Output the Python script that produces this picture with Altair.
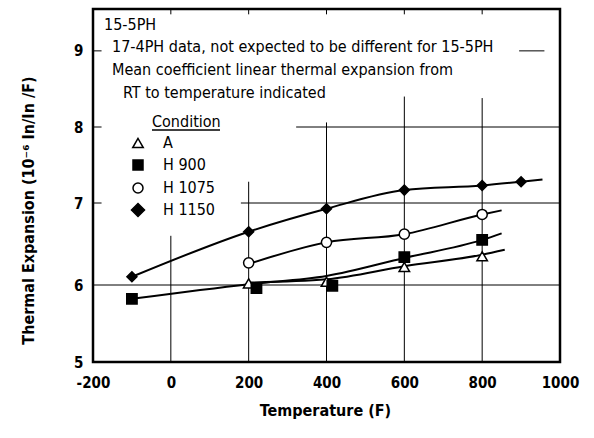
import altair as alt
import pandas as pd

# ---------------- data ----------------
series = ["A", "H 900", "H 1075", "H 1150"]
shapes = ["triangle-up", "square", "circle", "diamond"]
fills = ["white", "black", "white", "black"]
sizes = [110, 100, 100, 170]

# measured points (markers)
a_temp = [200, 400, 600, 800]
a_val = [6.02, 6.04, 6.22, 6.35]
h900_temp = [-100, 220, 415, 600, 800]
h900_val = [5.82, 5.96, 5.99, 6.34, 6.55]
h1075_temp = [200, 400, 600, 800]
h1075_val = [6.27, 6.52, 6.62, 6.86]
h1150_temp = [-100, 200, 400, 600, 800, 900]
h1150_val = [6.10, 6.65, 6.93, 7.17, 7.23, 7.28]

# fitted curves as drawn in the figure
a_curve_temp = [200, 400, 600, 800, 858]
a_curve_val = [6.03, 6.07, 6.23, 6.37, 6.43]
h900_curve_temp = [-100, 200, 400, 600, 800, 850]
h900_curve_val = [5.82, 6.01, 6.11, 6.33, 6.55, 6.63]
h1075_curve_temp = [195, 400, 600, 800, 850]
h1075_curve_val = [6.25, 6.52, 6.62, 6.86, 6.91]
h1150_curve_temp = [-100, 200, 400, 600, 800, 900, 955]
h1150_curve_val = [6.10, 6.65, 6.93, 7.17, 7.23, 7.28, 7.31]

x_ticks = [-200, 0, 200, 400, 600, 800, 1000]
y_ticks = [5, 6, 7, 8, 9]

# partial grid lines of the original figure
vgrid_x = [0, 200, 400, 600, 800]
vgrid_top = [6.60, 7.28, 8.06, 8.40, 8.38]
hgrid_y = [6, 7, 8, 9]
hgrid_start = [-200, 180, 322, 895]
hgrid_end = [1000, 1000, 1000, 960]

notes = [
    "15-5PH",
    "17-4PH data, not expected to be different for 15-5PH",
    "Mean coefficient linear thermal expansion from",
    "RT to temperature indicated",
]
legend_title = "Condition"
x_title = "Temperature (F)"
y_title = "Thermal Expansion (10\u207b\u2076 In/In /F)"

FONT = "Liberation Sans Narrow, DejaVu Sans Condensed, Arial Narrow, sans-serif"

# ---------------- tables ----------------
temps = [a_temp, h900_temp, h1075_temp, h1150_temp]
vals = [a_val, h900_val, h1075_val, h1150_val]
ctemps = [a_curve_temp, h900_curve_temp, h1075_curve_temp, h1150_curve_temp]
cvals = [a_curve_val, h900_curve_val, h1075_curve_val, h1150_curve_val]

pts_rows, curve_rows = [], []
for s, t, v, ct, cv in zip(series, temps, vals, ctemps, cvals):
    for tt, vv in zip(t, v):
        pts_rows.append({"series": s, "temp": tt, "val": vv})
    for i, (tt, vv) in enumerate(zip(ct, cv)):
        curve_rows.append({"series": s, "temp": tt, "val": vv, "o": i})
pts = pd.DataFrame(pts_rows)
curves = pd.DataFrame(curve_rows)

vgrid = pd.DataFrame({"temp": vgrid_x, "val": vgrid_top})
hgrid = pd.DataFrame({"val": hgrid_y, "temp": hgrid_start, "temp2": hgrid_end})
yticks_in = pd.DataFrame({"val": [7, 8, 9]})
xticks_in = pd.DataFrame({"temp": vgrid_x})

W, H = 467, 353
xs = alt.Scale(domain=[-200, 1000], nice=False, zero=False)
ys = alt.Scale(domain=[5, 6, 7, 8, 9.55], range=[353, 276, 194, 118, 0],
               nice=False, zero=False)

x_axis = alt.Axis(values=x_ticks, title=x_title, grid=False, ticks=False, tickSize=0,
                  domain=False, labelFont=FONT, labelFontSize=15, labelFontWeight="bold",
                  labelColor="black", labelPadding=13, labelFlush=False,
                  labelExpr="'' + datum.value",
                  titleFont=FONT, titleFontSize=16, titleFontWeight="bold",
                  titleColor="black", titleX=232, titleY=48,
                  titleBaseline="middle", titleAnchor="middle")
y_axis = alt.Axis(values=y_ticks, title=y_title, grid=False, ticks=False, tickSize=0,
                  domain=False, labelFont=FONT, labelFontSize=15, labelFontWeight="bold",
                  labelColor="black", labelPadding=10, labelBaseline="middle",
                  labelFlush=False, labelExpr="'' + datum.value",
                  titleFont=FONT, titleFontSize=16, titleFontWeight="bold",
                  titleColor="black", titleX=-65, titleY=201, titleAngle=-90,
                  titleBaseline="middle", titleAlign="center")

X = alt.X("temp:Q", scale=xs, axis=x_axis)
Y = alt.Y("val:Q", scale=ys, axis=y_axis)

vg = alt.Chart(vgrid).mark_rule(color="black", strokeWidth=1).encode(
    x=X, y=Y, y2=alt.datum(5))
hg = alt.Chart(hgrid).mark_rule(color="black", strokeWidth=1).encode(
    y=Y, x=X, x2="temp2:Q")
yt = alt.Chart(yticks_in).mark_rule(color="black", strokeWidth=1).encode(
    y=Y, x=alt.datum(-200), x2=alt.datum(-178))
xt = alt.Chart(xticks_in).mark_rule(color="black", strokeWidth=1).encode(
    x=X, y=alt.datum(9.55), y2=alt.datum(9.48))

lines = alt.Chart(curves).mark_line(color="black", strokeWidth=2,
                                    interpolate="monotone").encode(
    x=X, y=Y, detail="series:N", order="o:Q")

pts_layer = alt.Chart(pts).mark_point(stroke="black", strokeWidth=1.5, opacity=1,
                                      filled=False).encode(
    x=X, y=Y,
    shape=alt.Shape("series:N", scale=alt.Scale(domain=series, range=shapes), legend=None),
    fill=alt.Fill("series:N", scale=alt.Scale(domain=series, range=fills), legend=None),
    size=alt.Size("series:N", scale=alt.Scale(domain=series, range=sizes), legend=None),
)

one = pd.DataFrame({"k": [0]})
text_style = dict(font=FONT, fontSize=16, color="black", align="left", baseline="middle")
note_pos = [(11, 16), (19, 38), (19, 61), (30, 84)]
note_layers = [
    alt.Chart(one).mark_text(text=t, **text_style).encode(x=alt.value(px), y=alt.value(py))
    for t, (px, py) in zip(notes, note_pos)
]
cond = alt.Chart(one).mark_text(text=legend_title, **text_style).encode(
    x=alt.value(59), y=alt.value(113))
underline = alt.Chart(one).mark_rule(color="black", strokeWidth=1.5).encode(
    x=alt.value(59), x2=alt.value(127), y=alt.value(121))

leg_y = [134, 156, 179, 201]
leg_layers = []
for s, shp, f, sz, ly in zip(series, shapes, fills, sizes, leg_y):
    leg_layers.append(
        alt.Chart(one).mark_point(shape=shp, fill=f, stroke="black", strokeWidth=1.5,
                                  size=sz, opacity=1, filled=(f == "black")).encode(
            x=alt.value(45), y=alt.value(ly)))
    leg_layers.append(
        alt.Chart(one).mark_text(text=s, **text_style).encode(
            x=alt.value(70), y=alt.value(ly)))

chart = alt.layer(
    vg, hg, yt, xt, lines, pts_layer, *note_layers, cond, underline, *leg_layers
).properties(
    width=W, height=H,
    autosize=alt.AutoSizeParams(type="none"),
    padding={"left": 93, "top": 9, "right": 34, "bottom": 76},
    background="white",
).configure_view(stroke="black", strokeWidth=2.5)

chart.save("out.html", embed_options={"renderer": "svg", "actions": False})
